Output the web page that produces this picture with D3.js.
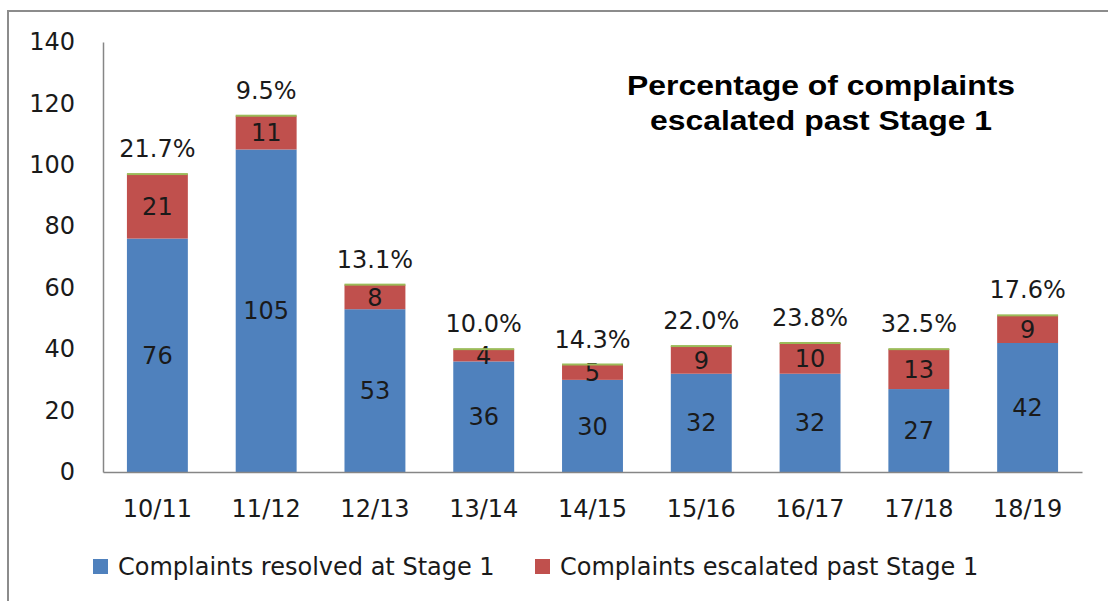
<!DOCTYPE html>
<html>
<head>
<meta charset="utf-8">
<script src="https://cdn.jsdelivr.net/npm/d3@7"></script>
<style>
  html, body { margin: 0; padding: 0; background: #fff; }
  svg { display: block; }
  text { font-family: "DejaVu Sans", sans-serif; fill: #1a1a1a; }
</style>
</head>
<body>
<svg id="chart" width="1108" height="601"></svg>
<script>
"use strict";

// data
const years = ["10/11", "11/12", "12/13", "13/14", "14/15", "15/16", "16/17", "17/18", "18/19"];
const resolved = [76, 105, 53, 36, 30, 32, 32, 27, 42];
const escalated = [21, 11, 8, 4, 5, 9, 10, 13, 9];
const pctLabels = ["21.7%", "9.5%", "13.1%", "10.0%", "14.3%", "22.0%", "23.8%", "32.5%", "17.6%"];
const yTicks = [0, 20, 40, 60, 80, 100, 120, 140];
const seriesNames = ["Complaints resolved at Stage 1", "Complaints escalated past Stage 1"];
const titleLines = ["Percentage of complaints", "escalated past Stage 1"];
const colors = ["#4f81bd", "#c0504d"];
const capColor = "#9bbb59";

const FONT = 24;
const svg = d3.select("#chart");

// outer chart frame (right/bottom edges fall outside the picture)
svg.append("rect")
  .attr("x", 8).attr("y", 11)
  .attr("width", 1120).attr("height", 620)
  .attr("fill", "none").attr("stroke", "#8c8c8c").attr("stroke-width", 2);

const plot = { left: 103, right: 1082, top: 42, bottom: 472 };

const x = d3.scaleBand()
  .domain(years)
  .range([plot.left, plot.right])
  .paddingInner(0.44)
  .paddingOuter(0.22);

const y = d3.scaleLinear().domain([0, 140]).range([plot.bottom, plot.top]);

const rows = years.map((yr, i) => ({ year: yr, resolved: resolved[i], escalated: escalated[i], pct: pctLabels[i] }));
const stack = d3.stack().keys(["resolved", "escalated"])(rows);

// bars
const layers = svg.append("g").selectAll("g")
  .data(stack).join("g")
  .attr("fill", (d, i) => colors[i]);

layers.selectAll("rect")
  .data(d => d).join("rect")
  .attr("x", d => x(d.data.year))
  .attr("y", d => y(d[1]))
  .attr("width", x.bandwidth())
  .attr("height", d => y(d[0]) - y(d[1]));

// thin green cap on top (the percentage series)
svg.append("g").selectAll("rect")
  .data(rows).join("rect")
  .attr("x", d => x(d.year))
  .attr("y", d => y(d.resolved + d.escalated) - 1)
  .attr("width", x.bandwidth())
  .attr("height", 2)
  .attr("fill", capColor);

// segment value labels
layers.selectAll("text")
  .data(d => d).join("text")
  .attr("x", d => x(d.data.year) + x.bandwidth() / 2)
  .attr("y", d => (y(d[0]) + y(d[1])) / 2)
  .attr("dy", "0.36em")
  .attr("text-anchor", "middle")
  .attr("font-size", FONT)
  .text(d => d[1] - d[0]);

// percentage labels above the bars
svg.append("g").selectAll("text")
  .data(rows).join("text")
  .attr("x", d => x(d.year) + x.bandwidth() / 2)
  .attr("y", d => y(d.resolved + d.escalated) - 17)
  .attr("text-anchor", "middle")
  .attr("font-size", FONT)
  .text(d => d.pct);

// axes
const yAxis = svg.append("g")
  .attr("transform", `translate(${plot.left},0)`)
  .call(d3.axisLeft(y).tickValues(yTicks).tickSize(0).tickPadding(28));
yAxis.select(".domain").attr("stroke", "#868686").attr("stroke-width", 1.5);
yAxis.selectAll("text").attr("font-size", FONT).attr("font-family", "DejaVu Sans").attr("fill", "#1a1a1a");

const xAxis = svg.append("g")
  .attr("transform", `translate(0,${plot.bottom})`)
  .call(d3.axisBottom(x).tickSize(0).tickPadding(28));
xAxis.select(".domain").attr("stroke", "#868686").attr("stroke-width", 1.5);
xAxis.selectAll("text").attr("font-size", FONT).attr("font-family", "DejaVu Sans").attr("fill", "#1a1a1a");

// title (the original text is stretched sideways)
const titleLen = [388, 342];
svg.append("g").selectAll("text")
  .data(titleLines).join("text")
  .attr("x", 821)
  .attr("y", (d, i) => 95 + i * 35)
  .attr("text-anchor", "middle")
  .attr("textLength", (d, i) => titleLen[i])
  .attr("lengthAdjust", "spacingAndGlyphs")
  .style("font-family", "'Liberation Sans', Arial, sans-serif")
  .attr("font-weight", "bold")
  .attr("font-size", 28)
  .style("fill", "#000")
  .text(d => d);

// legend
const legendX = [93, 535];
const legend = svg.append("g").selectAll("g")
  .data(seriesNames).join("g")
  .attr("transform", (d, i) => `translate(${legendX[i]},559)`);
legend.append("rect")
  .attr("width", 15).attr("height", 15)
  .attr("fill", (d, i) => colors[i]);
legend.append("text")
  .attr("x", 25).attr("y", 7.5).attr("dy", "0.36em")
  .attr("font-size", FONT)
  .text(d => d);
</script>
</body>
</html>
